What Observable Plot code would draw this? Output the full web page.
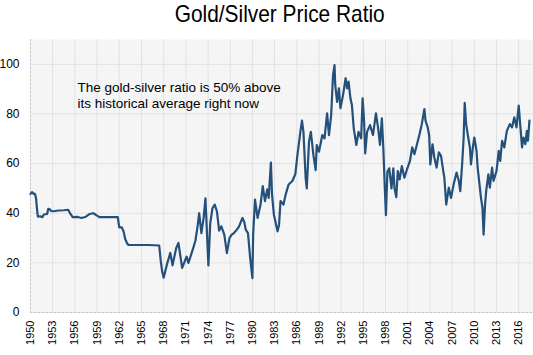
<!DOCTYPE html>
<html><head><meta charset="utf-8">
<script src="https://cdn.jsdelivr.net/npm/d3@7"></script>
<script src="https://cdn.jsdelivr.net/npm/@observablehq/plot@0.6"></script>
<style>
body{margin:0;background:#fff;font-family:"Liberation Sans Narrow","Arial Narrow","Liberation Sans",sans-serif;}
#title{height:34px;box-sizing:border-box;padding-top:2px;padding-left:26px;text-align:center;font-size:24px;line-height:24px;color:#000;width:533px;}
#title span{display:inline-block;transform:scaleX(0.87);transform-origin:center;}
</style></head><body>
<div id="title"><span>Gold/Silver Price Ratio</span></div>
<div id="chart"></div>
<script>
const years = [
1950.0,1950.2,1950.4,1950.6,1950.75,1950.9,1951.0,1951.3,1951.6,1951.8,1952.25,1952.4,1952.6,1952.8,1953.1,1953.8,1954.5,1955.1,1955.4,1955.7,1956.4,1956.9,1957.5,1958.0,1958.5,1959.0,1959.3,1960.5,1961.8,1962.0,1962.35,1962.6,1962.8,1963.1,1963.3,1964.5,1966.0,1967.4,
1967.6,1967.8,1968.0,1968.5,1968.9,1969.2,1969.7,1970.0,1970.5,1971.1,1971.35,1971.9,1972.3,1972.6,1972.8,1973.1,1973.4,1973.65,1974.05,1974.3,1974.6,1974.9,1975.2,1975.5,1975.8,1976.2,1976.55,1976.9,1977.2,1977.5,1977.9,1978.2,1978.65,1978.9,1979.1,1979.4,1979.7,1980.0,1980.1,1980.35,1980.7,1981.1,1981.4,1981.7,1982.0,1982.2,1982.5,1982.65,1982.9,1983.4,1983.6,1983.8,1984.2,1984.5,1984.9,1985.4,1985.8,1986.1,1986.5,1986.7,1986.9,1987.2,1987.35,1987.65,1987.9,1988.25,1988.55,1988.7,1989.0,1989.45,1989.75,1990.1,1990.35,1990.65,1990.9,1991.1,1991.2,1991.45,1991.7,1991.9,1992.25,1992.6,1992.8,1993.0,1993.25,1993.45,1993.7,1994.05,1994.35,1994.7,1994.9,1995.1,1995.25,1995.5,1995.9,1996.3,1996.7,1997.0,1997.25,1997.5,1997.7,1997.9,1998.05,1998.25,1998.5,1998.8,1999.05,1999.2,1999.45,1999.65,1999.9,2000.2,2000.55,2000.9,2001.3,2001.6,2001.9,2002.25,2002.6,2002.9,2003.25,2003.4,2003.7,2003.9,2004.05,2004.35,2004.6,2004.9,2005.2,2005.5,2005.8,2005.95,2006.2,2006.55,2006.85,2007.2,2007.6,2007.9,2008.1,2008.35,2008.55,2008.7,2008.9,2009.1,2009.4,2009.55,2009.8,2010.0,2010.3,2010.45,2010.7,2010.9,2011.1,2011.25,2011.45,2011.6,2011.9,2012.1,2012.4,2012.6,2013.0,2013.3,2013.5,2013.75,2014.05,2014.4,2014.8,2015.1,2015.4,2015.7,2016.0,2016.2,2016.45,2016.65,2016.9,2017.1,2017.25,2017.45
];
const ratio = [
47.8,48.5,47.9,47.8,46,41,38.6,38.8,38.4,39.5,39.7,41.8,41.6,40.9,40.8,41.1,41.2,41.4,39.7,38.4,38.5,38.1,38.6,39.7,40.0,39.0,38.4,38.4,38.4,34.3,34.3,32.5,29.6,27.6,27.2,27.2,27.2,27.0,
21,16.5,14,20,24,19,26,28,18,22.5,20,25,29,35,40,32,38,46,19,36,42,43.5,40.8,33,34.7,31.4,23.9,30,31.4,32,33.4,34.7,38.1,36.5,33.4,32,21.9,13.8,31.4,45.5,38.1,43.5,50.9,44.9,49.6,46.2,60.4,47.6,39.5,32.7,35.4,44.9,43.5,47.6,51.6,53,55.7,63.8,73.2,77.3,72.8,54,50,68.8,72.8,63.4,57.4,67.5,64.8,71.5,70.2,80.2,71.5,79.6,95.7,99.7,91.7,84.9,90.3,82.3,87.6,94.4,90.3,93,86.3,83.6,74.2,67.5,72.8,70.2,86.3,76.9,64.1,72.8,75.5,71.5,80.2,74.2,67.5,78.2,66.1,50,39.2,56.7,58.1,50,58.1,50.3,46.5,57,53.6,59,54.3,57.7,61.1,66.5,63.8,67.8,71.9,75.9,82,77.3,74.6,71.2,59.7,67.8,62.4,58.4,64.5,63.1,57,54.3,43.5,50.3,46.2,51.6,56.4,53,48.9,59.7,70,84.5,75.9,71.9,66.5,59.7,66.5,70.5,65.1,58.4,51.6,46.2,42.2,31.4,43.5,48.9,55.7,50.3,58.4,53,57,65.1,61.1,69.2,66.5,73.2,75.9,74.6,78.6,74.6,83.4,75.9,66.5,70.5,67.8,73.2,69.2,77.3
];
const xTicks = d3.range(1950, 2017, 3);
const yTicks = [0, 20, 40, 60, 80, 100];
const noteLines = ["The gold-silver ratio is 50% above", "its historical average right now"];

const data = years.map((y, i) => ({year: y, ratio: ratio[i]}));
const font = '"Liberation Sans Narrow","Arial Narrow","Liberation Sans",sans-serif';

const chart = Plot.plot({
  width: 533, height: 321,
  marginTop: 5, marginBottom: 43, marginLeft: 30, marginRight: 0,
  style: {fontFamily: font, fontSize: "12px", color: "#000", background: "transparent"},
  x: {domain: [1950, 2018]},
  y: {domain: [0, 110]},
  marks: [
    Plot.frame({fill: "#f5f5f5", stroke: null}),
    Plot.gridX(xTicks, {stroke: "#e2e2e2", strokeOpacity: 1}),
    Plot.gridY(yTicks, {stroke: "#e2e2e2", strokeOpacity: 1}),
    Plot.ruleX([1950], {stroke: "#c8c8c8", strokeDasharray: "2,2"}),
    Plot.ruleY([0], {stroke: "#c8c8c8", strokeDasharray: "2,2"}),
    Plot.axisX(xTicks, {tickRotate: -90, tickSize: 0, tickPadding: 8, tickFormat: d => String(d), label: null, fontSize: 11}),
    Plot.axisY(yTicks, {tickSize: 0, tickPadding: 11, label: null, fontSize: 12}),
    Plot.line(data, {x: "year", y: "ratio", stroke: "#24507c", strokeWidth: 2.2, strokeLinejoin: "round"}),
    Plot.text([noteLines.join("\n")], {text: d => d, frameAnchor: "top-left", textAnchor: "start", lineAnchor: "top", dx: 47, dy: 41, fontSize: 13.5, lineHeight: 1.2, fill: "#000"})
  ]
});
document.getElementById("chart").appendChild(chart);
</script>
</body></html>
